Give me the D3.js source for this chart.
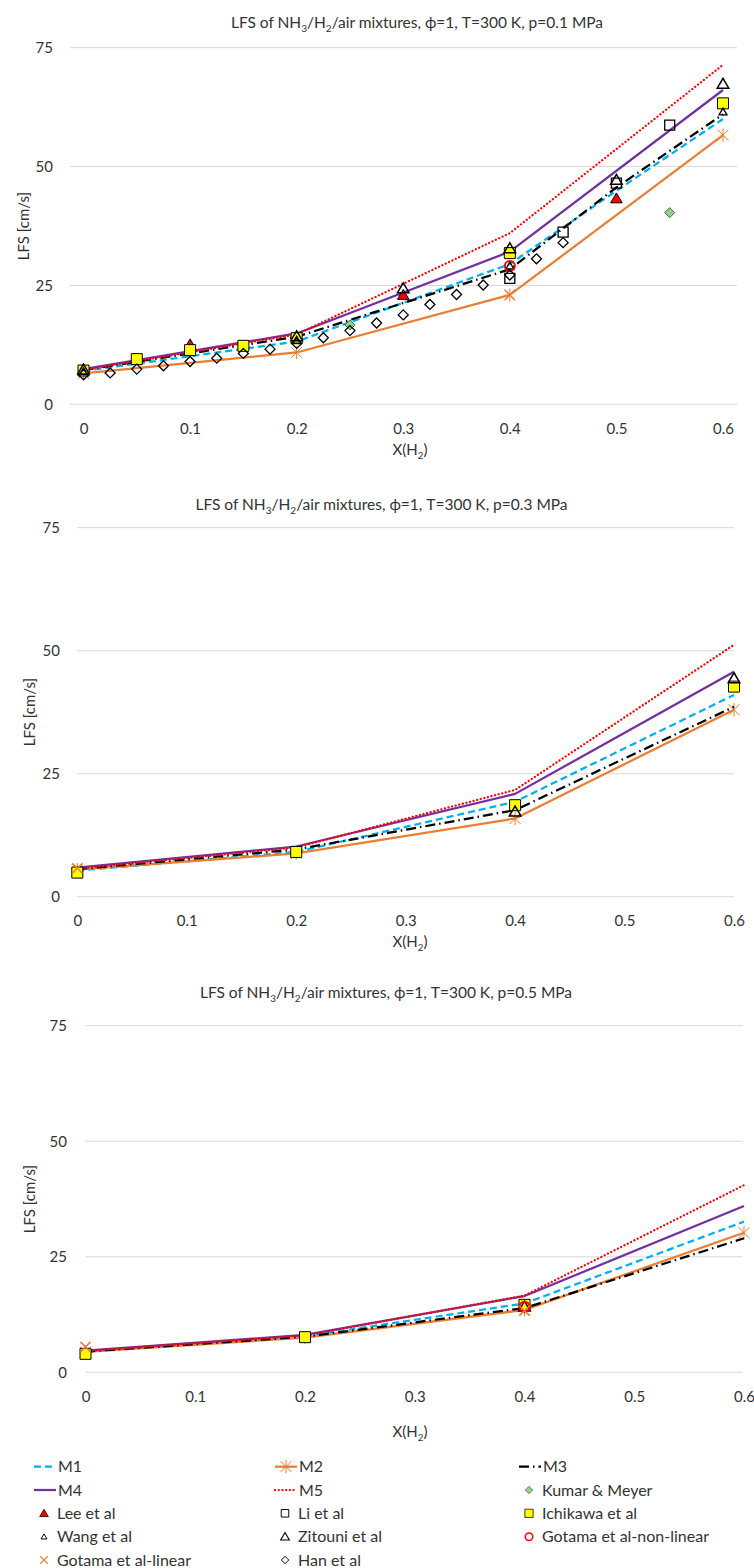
<html>
  <head>
    <meta charset="utf-8">
    <title>LFS of NH3/H2/air mixtures</title>
    <script src="https://cdn.jsdelivr.net/npm/d3@7"></script>
  </head>
<style>
  body { margin: 0; background: #ffffff; }
  text { font-family: Lato, "Liberation Sans", sans-serif; fill: #333333; }
</style>
<body>
<div id="chart"></div>
<script>
  // ---------- tick labels ----------
  var xTicks = [0, 0.1, 0.2, 0.3, 0.4, 0.5, 0.6];
  var yTicks = [0, 25, 50, 75];
  var pressures = ["0.1", "0.3", "0.5"];
  var legendNames = ["M1", "M2", "M3", "M4", "M5", "Kumar & Meyer", "Lee et al", "Li et al",
    "Ichikawa et al", "Wang et al", "Zitouni et al", "Gotama et al-non-linear", "Gotama et al-linear", "Han et al"];

  // ---------- p = 0.1 MPa ----------
  var x01 = [0, 0.2, 0.4, 0.5, 0.6];
  var M1_01 = [7.0, 13.2, 29.5, 44.9, 60.0];
  var M2_01 = [6.5, 10.9, 23.0, null, 56.6];
  var M3_01 = [7.2, 14.2, 28.4, 45.6, 61.0];
  var M4_01 = [7.4, 14.9, 32.1, null, 66.1];
  var M5_01 = [7.2, 14.7, 36.0, null, 71.4];
  var kumar01 = [[0.25, 16.7], [0.55, 40.3]];
  var lee01 = [[0.1, 12.6], [0.3, 23.0], [0.5, 43.3]];
  var li01 = [[0.4, 26.5], [0.45, 36.2], [0.5, 46.5], [0.55, 58.7]];
  var ichikawa01 = [[0, 7.1], [0.05, 9.5], [0.1, 11.4], [0.15, 12.3], [0.2, 13.9], [0.4, 31.8], [0.6, 63.3]];
  var wang01 = [[0, 6.9], [0.2, 13.5], [0.4, 29.1], [0.6, 61.5]];
  var zitouni01 = [[0, 7.3], [0.2, 14.3], [0.3, 24.4], [0.4, 32.8], [0.5, 47.2], [0.6, 67.4]];
  var gotamaNL01 = [[0.4, 29.1]];
  var gotamaL01 = [[0.4, 23.0]];
  var han01 = [[0, 6.2], [0.025, 6.6], [0.05, 7.4], [0.075, 8.1], [0.1, 9.0], [0.125, 9.7], [0.15, 10.7],
    [0.175, 11.6], [0.2, 12.8], [0.225, 14.0], [0.25, 15.5], [0.275, 17.1], [0.3, 18.8], [0.325, 21.0],
    [0.35, 23.1], [0.375, 25.1], [0.4, 27.2], [0.425, 30.6], [0.45, 34.0]];

  // ---------- p = 0.3 MPa ----------
  var x03 = [0, 0.2, 0.4, 0.6];
  var M1_03 = [5.3, 9.1, 19.3, 41.0];
  var M2_03 = [5.5, 8.8, 15.9, 38.0];
  var M3_03 = [5.6, 9.6, 17.6, 38.6];
  var M4_03 = [5.9, 10.2, 20.9, 45.7];
  var M5_03 = [5.7, 10.0, 21.7, 51.2];
  var ichikawa03 = [[0, 4.9], [0.2, 9.1], [0.4, 18.6], [0.6, 42.7]];
  var zitouni03 = [[0.4, 17.3], [0.6, 44.4]];
  var gotamaL03 = [[0, 5.8]];

  // ---------- p = 0.5 MPa ----------
  var x05 = [0, 0.2, 0.4, 0.6];
  var M1_05 = [4.5, 7.8, 14.9, 32.6];
  var M2_05 = [4.4, 7.5, 13.5, 30.2];
  var M3_05 = [4.5, 7.7, 13.9, 29.0];
  var M4_05 = [4.7, 8.1, 16.5, 36.0];
  var M5_05 = [4.6, 8.0, 16.6, 40.5];
  var ichikawa05 = [[0, 4.0], [0.2, 7.6], [0.4, 14.6]];
  var zitouni05 = [[0.4, 14.2]];
  var gotamaNL05 = [[0.4, 14.2]];
  var gotamaL05 = [[0, 5.5], [0.4, 13.3]];

  // ---------- styles ----------
  var lineStyle = {
    M1: { color: "#00B0F0", dash: "7,4", cap: "butt" },
    M2: { color: "#ED7D31", dash: null, cap: "butt" },
    M3: { color: "#000000", dash: "10,4,1.5,4", cap: "butt" },
    M4: { color: "#7030A0", dash: null, cap: "butt" },
    M5: { color: "#FF0000", dash: "0.1,3.6", cap: "round" }
  };

  function sq(s) { return "M" + (-s) + "," + (-s) + "H" + s + "V" + s + "H" + (-s) + "Z"; }
  function tri(s) { return "M0," + (-s) + "L" + (s * 1.05) + "," + (s * 0.8) + "L" + (-s * 1.05) + "," + (s * 0.8) + "Z"; }
  function dia(s) { return "M0," + (-s) + "L" + s + ",0L0," + s + "L" + (-s) + ",0Z"; }
  function circ(r) { return "M" + r + ",0A" + r + "," + r + " 0 1,1 " + (-r) + ",0A" + r + "," + r + " 0 1,1 " + r + ",0Z"; }
  function cross(s) { return "M" + (-s) + "," + (-s) + "L" + s + "," + s + "M" + (-s) + "," + s + "L" + s + "," + (-s); }
  function star(s) { return cross(s) + "M0," + (-s * 1.2) + "L0," + (s * 1.2); }

  var markStyle = {
    kumar:    { d: dia(5),   fill: "#8FD18F", stroke: "#3f6f3f", sw: 1 },
    lee:      { d: tri(5.5), fill: "#FF0000", stroke: "#000000", sw: 1 },
    li:       { d: sq(5),    fill: "none",    stroke: "#000000", sw: 1.3 },
    ichikawa: { d: sq(5.5),  fill: "#FFFF00", stroke: "#000000", sw: 1 },
    wang:     { d: tri(3.8), fill: "none",    stroke: "#000000", sw: 1.3 },
    zitouni:  { d: tri(5.5), fill: "none",    stroke: "#000000", sw: 1.5 },
    gotamaNL: { d: circ(5),  fill: "none",    stroke: "#FF0000", sw: 2 },
    gotamaL:  { d: cross(5), fill: "none",    stroke: "#ED7D31", sw: 1.5 },
    han:      { d: dia(5),   fill: "none",    stroke: "#000000", sw: 1.3 },
    m2:       { d: star(5.5), fill: "none",   stroke: "#ED7D31", sw: 1 }
  };

  var panels = [
    { p: pressures[0], xs: x01, models: [M1_01, M2_01, M3_01, M4_01, M5_01],
      exp: { kumar: kumar01, lee: lee01, li: li01, ichikawa: ichikawa01, wang: wang01, zitouni: zitouni01,
             gotamaNL: gotamaNL01, gotamaL: gotamaL01, han: han01 },
      grid: [70, 737], xr: [83.5, 723], yr: [404.3, 47.7], yLab: 53, xTickY: 434, xTitleY: 455,
      yTitle: [24, 226], title: [417, 28] },
    { p: pressures[1], xs: x03, models: [M1_03, M2_03, M3_03, M4_03, M5_03],
      exp: { ichikawa: ichikawa03, zitouni: zitouni03, gotamaL: gotamaL03 },
      grid: [77, 734], xr: [77.3, 734], yr: [896.7, 527.7], yLab: 60, xTickY: 926, xTitleY: 947,
      yTitle: [30, 712], title: [381.5, 510] },
    { p: pressures[2], xs: x05, models: [M1_05, M2_05, M3_05, M4_05, M5_05],
      exp: { ichikawa: ichikawa05, zitouni: zitouni05, gotamaNL: gotamaNL05, gotamaL: gotamaL05 },
      grid: [85.5, 742.5], xr: [85.5, 744], yr: [1372.3, 1025.7], yLab: 67, xTickY: 1402, xTitleY: 1437,
      yTitle: [30, 1199], title: [386, 998] }
  ];

  var expOrder = ["kumar", "lee", "li", "ichikawa", "wang", "zitouni", "gotamaNL", "gotamaL", "han"];

  var svg = d3.select("#chart").append("svg")
    .attr("width", 754)
    .attr("height", 1568);

  function subText(sel, parts, size) {
    parts.forEach(function (pt) {
      if (pt[1]) {
        sel.append("tspan").attr("font-size", size * 0.65).attr("dy", size * 0.28).text(pt[0]);
      } else {
        sel.append("tspan").attr("dy", pt[2] ? -size * 0.28 : 0).text(pt[0]);
      }
    });
  }

  panels.forEach(function (pn) {
    var g = svg.append("g");
    var x = d3.scaleLinear().domain([0, 0.6]).range(pn.xr);
    var y = d3.scaleLinear().domain([0, 75]).range(pn.yr);

    // gridlines
    g.selectAll(".grid").data(yTicks).enter().append("line")
      .attr("x1", pn.grid[0]).attr("x2", pn.grid[1])
      .attr("y1", function (d) { return y(d); }).attr("y2", function (d) { return y(d); })
      .attr("stroke", "#D9D9D9").attr("stroke-width", 1);

    // y axis labels
    var ya = g.append("g").attr("transform", "translate(" + pn.yLab + ",0)")
      .call(d3.axisLeft(y).tickValues(yTicks).tickSize(0).tickPadding(0));
    ya.select(".domain").remove();
    ya.selectAll("text").attr("font-size", 15).attr("font-family", null).attr("fill", "#333");

    // x axis labels
    var xa = g.append("g").attr("transform", "translate(0," + pn.xTickY + ")")
      .call(d3.axisBottom(x).tickValues(xTicks).tickSize(0).tickPadding(0)
        .tickFormat(function (d) { return String(+d.toFixed(1)); }));
    xa.select(".domain").remove();
    xa.selectAll("text").attr("y", 0).attr("dy", null).attr("font-size", 15).attr("font-family", null).attr("fill", "#333");

    // titles
    var t = g.append("text").attr("x", pn.title[0]).attr("y", pn.title[1])
      .attr("text-anchor", "middle").attr("font-size", 15.5);
    subText(t, [["LFS of NH"], ["3", true], ["/H", false, true], ["2", true],
      ["/air mixtures, \u03D5=1, T=300 K, p=" + pn.p + " MPa", false, true]], 15.5);

    var xt = g.append("text").attr("x", 410).attr("y", pn.xTitleY)
      .attr("text-anchor", "middle").attr("font-size", 15);
    subText(xt, [["X(H"], ["2", true], [")", false, true]], 15);

    g.append("text").attr("transform", "translate(" + pn.yTitle[0] + "," + pn.yTitle[1] + ") rotate(-90)")
      .attr("text-anchor", "middle").attr("dy", "0.35em").attr("font-size", 15)
      .text("LFS [cm/s]");

    // model lines
    var line = d3.line().x(function (d) { return x(d[0]); }).y(function (d) { return y(d[1]); });
    var keys = ["M1", "M2", "M3", "M4", "M5"];
    pn.models.forEach(function (vals, i) {
      var st = lineStyle[keys[i]];
      var pts = pn.xs.map(function (xv, j) { return [xv, vals[j]]; })
        .filter(function (d) { return d[1] != null; });
      g.append("path").datum(pts).attr("d", line)
        .attr("fill", "none").attr("stroke", st.color).attr("stroke-width", 2.25)
        .attr("stroke-dasharray", st.dash).attr("stroke-linecap", st.cap)
        .attr("stroke-linejoin", "round");
      if (keys[i] === "M2") {
        g.selectAll(null).data(pts).enter().append("path")
          .attr("transform", function (d) { return "translate(" + x(d[0]) + "," + y(d[1]) + ")"; })
          .attr("d", markStyle.m2.d).attr("fill", "none")
          .attr("stroke", markStyle.m2.stroke).attr("stroke-width", markStyle.m2.sw);
      }
    });

    // experimental markers
    expOrder.forEach(function (k) {
      var pts = pn.exp[k];
      if (!pts) return;
      var ms = markStyle[k];
      g.selectAll(null).data(pts).enter().append("path")
        .attr("transform", function (d) { return "translate(" + x(d[0]) + "," + y(d[1]) + ")"; })
        .attr("d", ms.d).attr("fill", ms.fill).attr("stroke", ms.stroke).attr("stroke-width", ms.sw);
    });
  });

  // ---------- legend ----------
  var legKeys = ["M1", "M2", "M3", "M4", "M5", "kumar", "lee", "li", "ichikawa", "wang", "zitouni", "gotamaNL", "gotamaL", "han"];
  var colX = [34, 275, 519];
  var rowY = [1466.7, 1490, 1513.3, 1536.7, 1560];
  var leg = svg.append("g");
  legKeys.forEach(function (k, i) {
    var cx = colX[i % 3], cy = rowY[Math.floor(i / 3)];
    var e = leg.append("g").attr("transform", "translate(" + cx + "," + cy + ")");
    if (lineStyle[k]) {
      var st = lineStyle[k];
      e.append("line").attr("x1", 0).attr("x2", 22).attr("y1", 0).attr("y2", 0)
        .attr("stroke", st.color).attr("stroke-width", 2.25)
        .attr("stroke-dasharray", st.dash).attr("stroke-linecap", st.cap);
      if (k === "M2") {
        e.append("path").attr("transform", "translate(11,0)").attr("d", markStyle.m2.d)
          .attr("fill", "none").attr("stroke", markStyle.m2.stroke).attr("stroke-width", markStyle.m2.sw);
      }
      e.append("text").attr("x", 24).attr("y", 5.5).attr("font-size", 16).text(legendNames[i]);
    } else {
      var ms = markStyle[k];
      e.append("path").attr("transform", "translate(10,0) scale(0.75)").attr("d", ms.d)
        .attr("fill", ms.fill).attr("stroke", ms.stroke).attr("stroke-width", ms.sw);
      e.append("text").attr("x", 23).attr("y", 5.5).attr("font-size", 16).text(legendNames[i]);
    }
  });
</script>
</body>
</html>
